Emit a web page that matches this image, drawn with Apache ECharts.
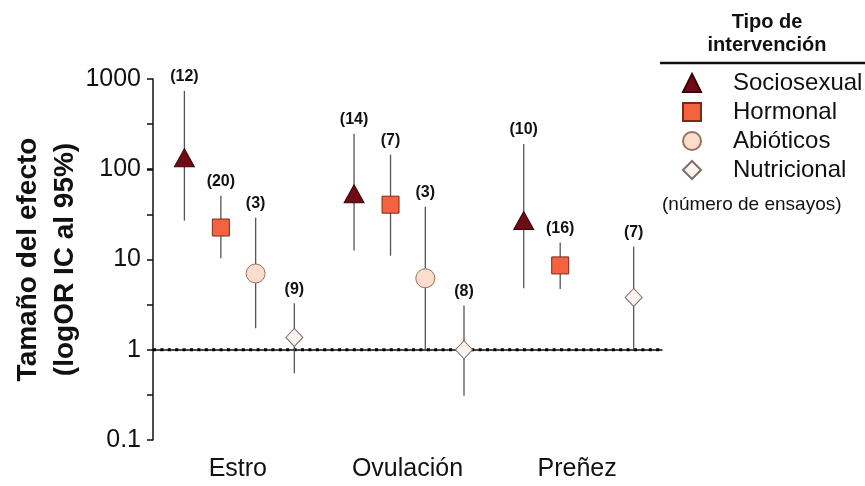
<!DOCTYPE html>
<html>
<head>
<meta charset="utf-8">
<script src="https://cdn.jsdelivr.net/npm/echarts@6/dist/echarts.min.js"></script>
<style>
  html, body { margin: 0; padding: 0; background: #fff; }
  #chart { width: 865px; height: 486px; }
</style>
</head>
<body>
<div id="chart"></div>
<script>
// categorias del eje x
const categories = ['Estro', 'Ovulación', 'Preñez'];

// Sociosexual
const socMean = [134, 53.6, 27];
const socLow = [27, 12.6, 4.8];
const socHigh = [737, 247, 191];
const socN = [12, 14, 10];

// Hormonal
const horMean = [22.6, 40.5, 8.6];
const horLow = [10.3, 11, 4.7];
const horHigh = [51, 145, 15.4];
const horN = [20, 7, 16];

// Abióticos (sin dato en Preñez)
const abiMean = [7.0, 6.2, null];
const abiLow = [1.73, 1.0, null];
const abiHigh = [29, 38.5, null];
const abiN = [3, 3, null];

// Nutricional
const nutMean = [1.37, 1.0, 3.8];
const nutLow = [0.55, 0.31, 1.0];
const nutHigh = [3.27, 3.1, 13.9];
const nutN = [9, 8, 7];

const yTicks = [0.1, 1, 10, 100, 1000];
// linea de no efecto (OR = 1)
const refValue = 1;

const FONT = 'Liberation Sans, Arial, sans-serif';

const groups = [
  { name: 'Sociosexual', mean: socMean, low: socLow, high: socHigh, n: socN,
    symbol: 'triangle', size: [20, 18], fill: '#6e0b14', border: '#3a0508', offset: -0.315 },
  { name: 'Hormonal', mean: horMean, low: horLow, high: horHigh, n: horN,
    symbol: 'rect', size: [17, 17], fill: '#f4623f', border: '#7a2a1a', offset: -0.10 },
  { name: 'Abióticos', mean: abiMean, low: abiLow, high: abiHigh, n: abiN,
    symbol: 'circle', size: [19, 19], fill: '#fcdccc', border: '#9a7060', offset: 0.105 },
  { name: 'Nutricional', mean: nutMean, low: nutLow, high: nutHigh, n: nutN,
    symbol: 'diamond', size: [17, 18], fill: '#fdf3ee', border: '#7d6f68', offset: 0.333 }
];

// barra de error + numero de ensayos encima
function renderErr(params, api) {
  const x = api.value(0);
  const pLo = api.coord([x, api.value(1)]);
  const pHi = api.coord([x, api.value(2)]);
  return {
    type: 'group',
    children: [
      {
        type: 'line',
        shape: { x1: pLo[0], y1: pLo[1], x2: pHi[0], y2: pHi[1] },
        style: { stroke: '#555', lineWidth: 1.3 }
      },
      {
        type: 'text',
        x: pHi[0],
        y: pHi[1] - 14,
        style: {
          text: '(' + api.value(3) + ')',
          fill: '#111',
          font: 'bold 16px ' + FONT,
          textAlign: 'center',
          textVerticalAlign: 'middle'
        }
      }
    ]
  };
}

let series = [
  {
    name: 'ref',
    type: 'line',
    xAxisIndex: 1,
    yAxisIndex: 0,
    data: [[0, refValue], [categories.length, refValue]],
    symbol: 'none',
    silent: true,
    lineStyle: { color: '#000', width: 3, type: [3, 4.4], cap: 'butt' },
    z: 1
  }
];
groups.forEach((g) => {
  let errData = [];
  let ptData = [];
  categories.forEach((c, i) => {
    if (g.mean[i] == null) return;
    const x = i + 0.5 + g.offset;
    errData.push([x, g.low[i], g.high[i], g.n[i]]);
    ptData.push([x, g.mean[i]]);
  });
  series.push({
    name: 'err-' + g.name,
    type: 'custom',
    xAxisIndex: 1,
    yAxisIndex: 0,
    renderItem: renderErr,
    encode: { x: 0, y: [1, 2] },
    data: errData,
    z: 2,
    silent: true
  });
  series.push({
    name: g.name,
    type: 'scatter',
    xAxisIndex: 1,
    yAxisIndex: 0,
    symbol: g.symbol,
    symbolSize: g.size,
    itemStyle: { color: g.fill, borderColor: g.border, borderWidth: 1, opacity: 1 },
    data: ptData,
    z: 5
  });
});

const chart = echarts.init(document.getElementById('chart'));
chart.setOption({
  backgroundColor: '#fff',
  animation: false,
  textStyle: { fontFamily: FONT },
  grid: { left: 153, right: 203, top: 79, bottom: 46, containLabel: false, outerBoundsMode: 'none' },
  xAxis: [
    {
      type: 'category',
      position: 'bottom',
      data: categories,
      boundaryGap: true,
      axisLine: { lineStyle: { color: '#111', width: 1.5 } },
      axisTick: { alignWithLabel: true, length: 5, lineStyle: { color: '#111', width: 1.5 } },
      axisLabel: { color: '#111', fontSize: 25, margin: 17, fontFamily: FONT },
      splitLine: { show: false }
    },
    {
      type: 'value',
      position: 'bottom',
      min: 0,
      max: categories.length,
      show: false
    }
  ],
  yAxis: [
    {
      type: 'log',
      logBase: 10,
      position: 'left',
      min: yTicks[0],
      max: yTicks[yTicks.length - 1],
      name: 'Tamaño del efecto\n(logOR IC al 95%)',
      nameLocation: 'middle',
      nameGap: 69,
      nameMoveOverlap: false,
      nameRotate: 90,
      nameTextStyle: { color: '#111', fontSize: 28, fontWeight: 'bold', lineHeight: 37, fontFamily: FONT },
      axisLine: { show: true, lineStyle: { color: '#111', width: 1.5 } },
      axisTick: { show: true, length: 6, lineStyle: { color: '#111', width: 1.5 } },
      axisLabel: {
        color: '#111', fontSize: 25, margin: 12, fontFamily: FONT,
        formatter: v => String(v)
      },
      splitLine: { show: false }
    },
    {
      // solo para las marcas menores a media decada
      type: 'value',
      position: 'left',
      min: -1,
      max: 3,
      interval: 0.5,
      axisLine: { show: false },
      axisTick: { show: true, length: 6, lineStyle: { color: '#111', width: 1.5 } },
      axisLabel: { show: false },
      splitLine: { show: false }
    }
  ],
  legend: {
    data: groups.map(g => g.name),
    orient: 'vertical',
    left: 682,
    top: 71,
    padding: 0,
    itemWidth: 18,
    itemHeight: 18,
    itemGap: 5,
    selectedMode: false,
    textStyle: { color: '#111', fontSize: 24, lineHeight: 24, padding: [0, 0, 0, 27], fontFamily: FONT }
  },
  graphic: [
    {
      type: 'text',
      style: { text: 'Tipo de', x: 767, y: 22, fill: '#111', font: 'bold 20px ' + FONT,
        textAlign: 'center', textVerticalAlign: 'middle' }
    },
    {
      type: 'text',
      style: { text: 'intervención', x: 767, y: 45, fill: '#111', font: 'bold 20px ' + FONT,
        textAlign: 'center', textVerticalAlign: 'middle' }
    },
    {
      type: 'line',
      shape: { x1: 660, y1: 63, x2: 865, y2: 63 },
      style: { stroke: '#111', lineWidth: 2.5 }
    },
    {
      type: 'text',
      style: { text: '(número de ensayos)', x: 662, y: 205, fill: '#111', font: '19px ' + FONT,
        textAlign: 'left', textVerticalAlign: 'middle' }
    }
  ],
  series: series
});
</script>
</body>
</html>
